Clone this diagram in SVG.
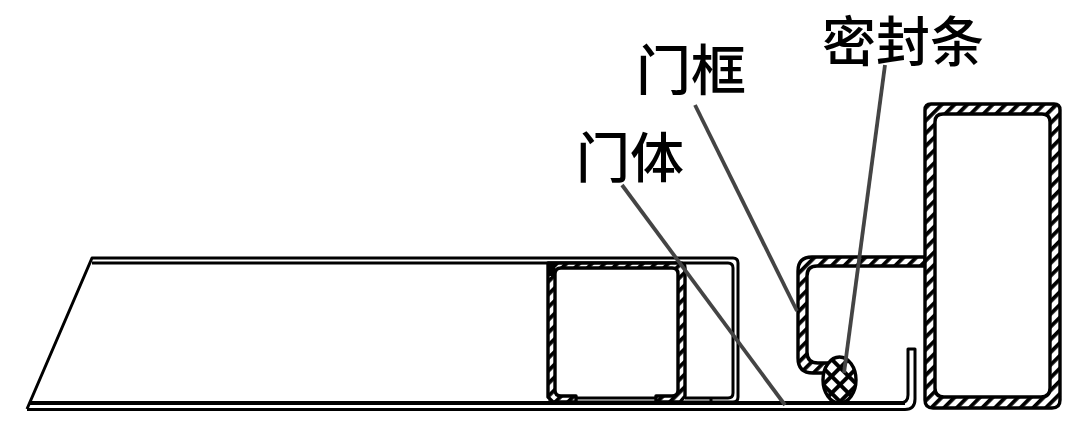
<svg xmlns="http://www.w3.org/2000/svg" width="1080" height="428" viewBox="0 0 1080 428">
<style>
.o{fill:none;stroke:#000;stroke-width:3;stroke-linejoin:round}
.t{fill:none;stroke:#000;stroke-width:4}
.h{fill:url(#hatch);fill-rule:evenodd;stroke:#000;stroke-width:3.400;stroke-linejoin:round}
.l{fill:none;stroke:#444;stroke-width:3.800}
text{font-family:"Noto Sans CJK SC","Noto Sans CJK JP",sans-serif;fill:#000;font-weight:500}
</style>
<defs>
<pattern id="hatch" width="9" height="9" patternUnits="userSpaceOnUse" patternTransform="rotate(-45)">
<rect width="9" height="9" fill="#fff"/><rect width="9" height="3.800" fill="#000"/>
</pattern>
<pattern id="hatch2" width="12" height="12" patternUnits="userSpaceOnUse" patternTransform="rotate(45)">
<rect width="12" height="12" fill="#fff"/><rect width="4" height="12" fill="#000"/><rect width="12" height="4" fill="#000"/>
</pattern>
</defs>
<rect width="1080" height="428" fill="#fff"/>
<g id="door-body">
<path class="o" d="M27 409 L92 258 H733 Q738 258 738 263 V397 Q738 402 733 402 H548"/>
<path class="o" d="M92 263 H728 Q733 263 733 268 V393 Q733 398 728 398 H685"/>
<path class="o" d="M711 398 V402"/>
<path class="o" d="M27 409.500 H905 Q915 409.500 915 399 V349 H908 V395 Q908 403 900 403 H30"/>
<path class="t" d="M30 403 H905"/>
</g>
<g id="door-tube">
<path class="h" d="M548 263 H680 Q685 263 685 268 V396 L680 402 H656 V396 H672 Q678 396 678 390 V274 Q678 268 672 268 H561 Q555 268 555 274 V390 Q555 396 561 396 H576 V402 H553 L548 397 Z"/>
<path class="o" d="M576 398 H656"/>
<path d="M548 263 H560 L555 268 V276 H548 Z" fill="#000"/>
</g>
<g id="door-frame">
<path class="h" d="M925 257 H812 Q798 257 798 271 V358 Q798 373 813 373 H832 L838 363 H818 Q807 363 807 352 V276 Q807 266 817 266 H925 Z"/>
</g>
<g id="frame-tube">
<path class="h" d="M931 104 H1054 Q1060 104 1060 110 V400 Q1060 408 1052 408 H933 Q925 408 925 400 V110 Q925 104 931 104 Z M943 114 Q935 114 935 122 V388 Q935 397 944 397 H1041 Q1050 397 1050 388 V122 Q1050 114 1042 114 Z"/>
</g>
<g id="seal">
<ellipse cx="839.500" cy="380" rx="16.500" ry="23" fill="url(#hatch2)" stroke="#000" stroke-width="3.400"/>
</g>
<g id="connectors">
<line class="l" x1="695" y1="105" x2="797" y2="311"/>
<line class="l" x1="885" y1="65" x2="844" y2="373"/>
<line class="l" x1="622" y1="185" x2="785" y2="405"/>
</g>
<g id="labels">
<text x="636" y="90" font-size="55">门框</text>
<text x="822" y="62" font-size="54">密封条</text>
<text x="576" y="178" font-size="54">门体</text>
</g>
</svg>
